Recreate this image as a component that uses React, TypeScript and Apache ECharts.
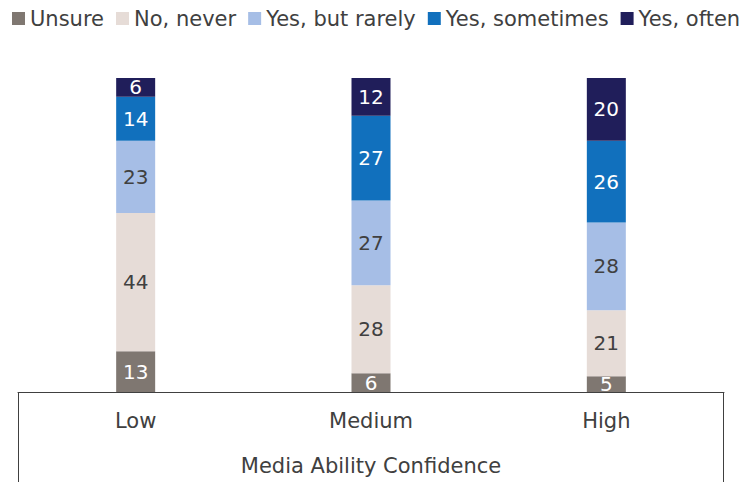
import React, { useEffect, useRef } from "react";
import * as echarts from "echarts";

const categories = ["Low", "Medium", "High"];
const seriesNames = ["Unsure", "No, never", "Yes, but rarely", "Yes, sometimes", "Yes, often"];
const unsure = [13, 6, 5];
const noNever = [44, 28, 21];
const yesRarely = [23, 27, 28];
const yesSometimes = [14, 27, 26];
const yesOften = [6, 12, 20];
const axisTitle = "Media Ability Confidence";

const colors = ["#7f7771", "#e6dcd7", "#a6bee6", "#1170bd", "#201e5a"];
const labelColors = ["#ffffff", "#404040", "#404040", "#ffffff", "#ffffff"];

const FONT = "DejaVu Sans";
const FW = 400;
const FS = 21;

export default function App() {
  const ref = useRef<HTMLDivElement>(null);
  useEffect(() => {
    if (!ref.current) return;
    const chart = echarts.init(ref.current, null, { renderer: "svg" });
    const data = [unsure, noNever, yesRarely, yesSometimes, yesOften];
    const gridLeft = 18, gridRight = 28, gridTop = 78, gridBottom = 90;
    const W = 752, H = 482;
    const axisY = H - gridBottom;
    chart.setOption({
      animation: false,
      textStyle: { fontFamily: FONT, fontWeight: FW },
      color: colors,
      legend: {
        left: 7,
        top: 3,
        itemWidth: 13,
        itemHeight: 13,
        itemGap: 12,
        icon: "rect",
        textStyle: { fontSize: FS, color: "#404040", fontFamily: FONT, fontWeight: FW },
        data: seriesNames,
      },
      grid: { left: gridLeft, right: gridRight, top: gridTop, bottom: gridBottom, containLabel: false },
      xAxis: {
        type: "category",
        data: categories,
        axisLine: { show: true, lineStyle: { color: "#404040", width: 1 } },
        axisTick: { show: false },
        axisLabel: { fontSize: FS, color: "#404040", margin: 18, fontFamily: FONT, fontWeight: FW },
        name: axisTitle,
        nameLocation: "middle",
        nameGap: 63,
        nameTextStyle: { fontSize: FS, color: "#404040", fontFamily: FONT, fontWeight: FW },
      },
      yAxis: { type: "value", min: 0, max: 100, show: false, splitLine: { show: false } },
      graphic: [
        { type: "line", shape: { x1: gridLeft + 0.5, y1: axisY, x2: gridLeft + 0.5, y2: H }, style: { stroke: "#404040", lineWidth: 1 } },
        { type: "line", shape: { x1: W - gridRight - 0.5, y1: axisY, x2: W - gridRight - 0.5, y2: H }, style: { stroke: "#404040", lineWidth: 1 } },
      ],
      series: seriesNames.map((name, i) => ({
        name,
        type: "bar",
        stack: "total",
        barWidth: 39,
        data: data[i],
        itemStyle: { color: colors[i] },
        label: {
          show: true,
          position: "inside",
          fontSize: 20,
          color: labelColors[i],
          fontFamily: FONT,
          fontWeight: FW,
        },
      })),
    });
    return () => chart.dispose();
  }, []);
  return <div ref={ref} style={{ width: 752, height: 482, position: "absolute", left: 0, top: 0 }} />;
}
